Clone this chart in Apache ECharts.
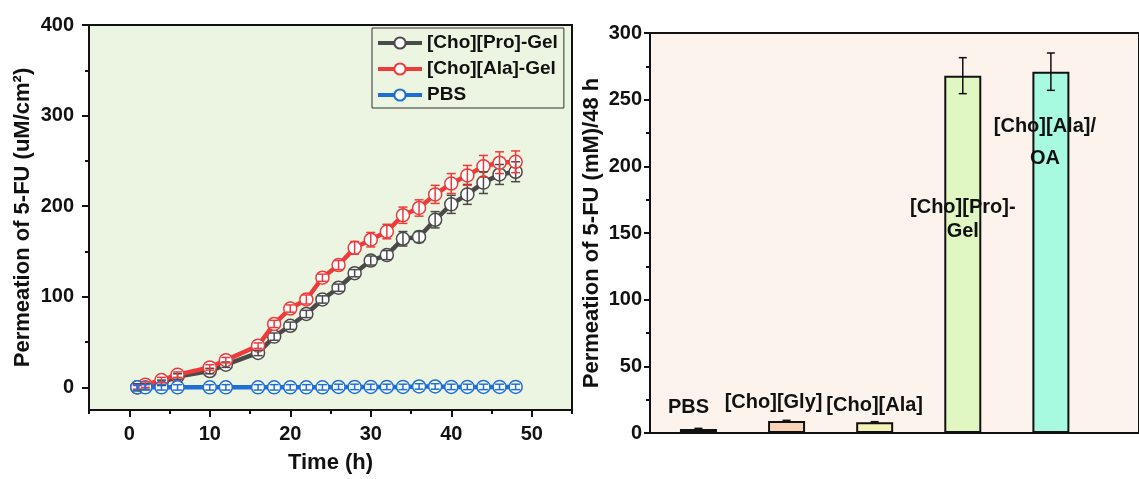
<!DOCTYPE html>
<html>
<head>
<meta charset="utf-8">
<script src="https://cdn.jsdelivr.net/npm/echarts@6/dist/echarts.min.js"></script>
<style>
  html, body { margin: 0; padding: 0; background: #ffffff; }
  #chart { width: 1139px; height: 479px; }
</style>
</head>
<body>
<div id="chart"></div>
<script>
// ---- Cumulative permeation over time (left panel) ----
const times = [1, 2, 4, 6, 10, 12, 16, 18, 20, 22, 24, 26, 28, 30, 32, 34, 36, 38, 40, 42, 44, 46, 48];
const proGel = [0, 1, 5, 12, 18, 25, 38, 56, 68, 81, 97, 110, 126, 140, 146, 164, 166, 185, 202, 213, 226, 235, 238];
const proGelErr = [4, 3, 3, 3, 3, 3, 3, 4, 4, 4, 4, 4, 4, 5, 5, 8, 6, 9, 10, 11, 12, 11, 11];
const alaGel = [0, 3, 8, 14, 22, 30, 46, 70, 87, 97, 121, 135, 154, 163, 172, 190, 198, 213, 225, 234, 244, 248, 249];
const alaGelErr = [2, 3, 3, 3, 3, 3, 3, 4, 4, 5, 4, 5, 7, 8, 8, 9, 9, 10, 11, 11, 12, 12, 12];
const pbs = [0, 0, 0, 0, 0, 0, 0, 0, 0, 0, 0, 0.5, 0.5, 0.5, 0.5, 0.5, 1, 1, 0.5, 0.5, 0.5, 0.5, 0.5];
const pbsErr = [3, 3, 3, 3, 3, 3, 3, 3, 3, 3, 3, 3, 3, 3, 3, 3, 3, 3, 3, 3, 3, 3, 3];
const lineNames = ['[Cho][Pro]-Gel', '[Cho][Ala]-Gel', 'PBS'];

const timeTicks = [0, 10, 20, 30, 40, 50];
const timeMinorTicks = [-5, 5, 15, 25, 35, 45, 55];
const permTicks = [0, 100, 200, 300, 400];
const permMinorTicks = [50, 150, 250, 350];

// ---- Permeation after 48 h (right panel) ----
const barCategories = ['PBS', '[Cho][Gly]', '[Cho][Ala]', '[Cho][Pro]-\nGel', '[Cho][Ala]/\nOA'];
const barValues = [3, 9, 8, 268, 271];
const barErrors = [0.5, 0.5, 0.5, 13.5, 14];

// ---- styling ----
const FONT = '"Liberation Sans", Arial, Helvetica, sans-serif';
const INK = '#111111';
const lineColors = ['#4a4a4a', '#ee3a3a', '#1e6fd6'];
const barColors = ['#85987a', '#f9d3b5', '#f4f1b4', '#e1f7c1', '#a7fae0'];
// label placement per bar
const barLabelStyles = [
  { position: 'top', distance: 11, offset: [-10, 0], lineHeight: 22 },
  { position: 'top', distance: 8, offset: [-13, 0], lineHeight: 22 },
  { position: 'top', distance: 6, offset: [0, 0], lineHeight: 22 },
  { position: 'insideTop', distance: 5, offset: [0, 115], lineHeight: 24 },
  { position: 'insideTop', distance: 5, offset: [-6, 34], lineHeight: 32 }
];

const boldText = { fontFamily: FONT, fontWeight: 'bold', color: INK };

function errorBars(name, xi, yi, xs, ys, errs, color, capHalf, width) {
  return {
    type: 'custom',
    name: name,
    xAxisIndex: xi,
    yAxisIndex: yi,
    z: 6,
    silent: true,
    data: xs.map((x, i) => [x, ys[i] - errs[i], ys[i] + errs[i]]),
    encode: { x: 0, y: [1, 2] },
    renderItem: function (params, api) {
      const x = api.value(0);
      const lo = api.coord([x, api.value(1)]);
      const hi = api.coord([x, api.value(2)]);
      const s = { stroke: color, lineWidth: width };
      return {
        type: 'group',
        children: [
          { type: 'line', shape: { x1: lo[0], y1: lo[1], x2: hi[0], y2: hi[1] }, style: s },
          { type: 'line', shape: { x1: hi[0] - capHalf, y1: hi[1], x2: hi[0] + capHalf, y2: hi[1] }, style: s },
          { type: 'line', shape: { x1: lo[0] - capHalf, y1: lo[1], x2: lo[0] + capHalf, y2: lo[1] }, style: s }
        ]
      };
    }
  };
}

function lineSeries(idx, values) {
  return {
    type: 'line',
    name: lineNames[idx],
    xAxisIndex: 0,
    yAxisIndex: 0,
    z: 2 + idx * 0.1,
    data: times.map((t, i) => [t, values[i]]),
    symbol: 'circle',
    symbolSize: 13,
    showAllSymbol: true,
    lineStyle: { color: lineColors[idx], width: 4.5 },
    itemStyle: { color: '#ffffff', borderColor: lineColors[idx], borderWidth: 1.5 }
  };
}

const axisLineStyle = { onZero: false, lineStyle: { color: INK, width: 2 } };

const chart = echarts.init(document.getElementById('chart'), null, { renderer: 'canvas' });

const option = {
  animation: false,
  backgroundColor: '#ffffff',
  grid: [
    { left: 89, top: 25, width: 483, height: 388, show: true,
      backgroundColor: '#ecf5e1', borderColor: INK, borderWidth: 2 },
    { left: 650, top: 33, width: 500, height: 400, show: true,
      backgroundColor: '#fdf3ed', borderColor: INK, borderWidth: 2 }
  ],
  legend: {
    data: lineNames,
    orient: 'vertical',
    left: 372,
    top: 28,
    padding: [5, 6, 3, 4],
    itemWidth: 44,
    itemHeight: 14,
    itemGap: 6,
    borderColor: '#333333',
    borderWidth: 1,
    backgroundColor: 'transparent',
    lineStyle: { width: 4 },
    textStyle: Object.assign({ fontSize: 19, lineHeight: 20 }, boldText)
  },
  xAxis: [
    {
      gridIndex: 0, type: 'value', position: 'bottom', min: -5, max: 55, interval: 5,
      name: 'Time (h)', nameLocation: 'middle', nameGap: 42,
      nameTextStyle: Object.assign({ fontSize: 22 }, boldText),
      axisLine: axisLineStyle,
      axisTick: { customValues: timeTicks, length: 7, lineStyle: { color: INK, width: 2 } },
      axisLabel: Object.assign({ customValues: timeTicks, margin: 14, fontSize: 20 }, boldText),
      splitLine: { show: false }
    },
    {
      gridIndex: 0, type: 'value', position: 'bottom', min: -5, max: 55, interval: 5,
      axisLine: { show: false, onZero: false },
      axisTick: { customValues: timeMinorTicks, length: 4, lineStyle: { color: INK, width: 2 } },
      axisLabel: { show: false },
      splitLine: { show: false }
    },
    {
      gridIndex: 1, type: 'value', position: 'bottom', min: 0.45, max: 6,
      axisLine: axisLineStyle,
      axisTick: { show: false },
      axisLabel: { show: false },
      splitLine: { show: false }
    }
  ],
  yAxis: [
    {
      gridIndex: 0, type: 'value', position: 'left', min: -25, max: 400, interval: 25,
      name: 'Permeation of 5-FU (uM/cm²)', nameLocation: 'middle', nameGap: 55,
      nameTextStyle: Object.assign({ fontSize: 22 }, boldText),
      axisLine: axisLineStyle,
      axisTick: { customValues: permTicks, length: 7, lineStyle: { color: INK, width: 2 } },
      axisLabel: Object.assign({ customValues: permTicks, margin: 15, fontSize: 20 }, boldText),
      splitLine: { show: false }
    },
    {
      gridIndex: 0, type: 'value', position: 'left', min: -25, max: 400, interval: 25,
      axisLine: { show: false, onZero: false },
      axisTick: { customValues: permMinorTicks, length: 4, lineStyle: { color: INK, width: 2 } },
      axisLabel: { show: false },
      splitLine: { show: false }
    },
    {
      gridIndex: 1, type: 'value', position: 'left', min: 0, max: 300, interval: 50,
      name: 'Permeation of 5-FU (mM)/48 h', nameLocation: 'middle', nameGap: 47,
      nameTextStyle: Object.assign({ fontSize: 22 }, boldText),
      axisLine: axisLineStyle,
      axisTick: { length: 6, lineStyle: { color: INK, width: 2 } },
      minorTick: { show: true, splitNumber: 2, length: 4, lineStyle: { color: INK, width: 2 } },
      axisLabel: Object.assign({ margin: 8, fontSize: 20 }, boldText),
      splitLine: { show: false }
    }
  ],
  series: [
    lineSeries(0, proGel),
    lineSeries(1, alaGel),
    lineSeries(2, pbs),
    errorBars('err-pro', 0, 0, times, proGel, proGelErr, lineColors[0], 4.5, 1.5),
    errorBars('err-ala', 0, 0, times, alaGel, alaGelErr, lineColors[1], 4.5, 1.5),
    errorBars('err-pbs', 0, 0, times, pbs, pbsErr, lineColors[2], 4.5, 1.5),
    {
      type: 'bar',
      name: 'bars',
      xAxisIndex: 2,
      yAxisIndex: 2,
      barWidth: 37,
      z: 3,
      data: barValues.map((v, i) => ({
        value: [i + 1, v],
        itemStyle: { color: barColors[i], borderColor: INK, borderWidth: 2 },
        label: Object.assign({
          show: true,
          fontSize: 20,
          formatter: () => barCategories[i]
        }, boldText, barLabelStyles[i])
      }))
    },
    errorBars('err-bars', 2, 2, barValues.map((v, i) => i + 1), barValues, barErrors, INK, 4, 1.5)
  ]
};

chart.setOption(option);
</script>
</body>
</html>
